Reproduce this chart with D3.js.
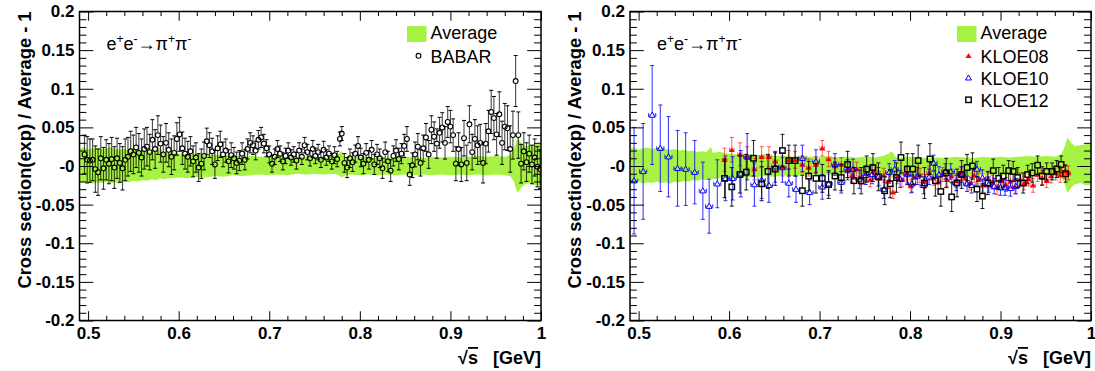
<!DOCTYPE html>
<html><head><meta charset="utf-8">
<script src="https://cdn.jsdelivr.net/npm/d3@7"></script>
<style>
body{margin:0;background:#fff}
svg{display:block}
text{font-family:"Liberation Sans",Arial,Helvetica,sans-serif}
</style>
</head><body>
<svg id="c" width="1095" height="371"></svg>
<script>
// ---------- axis definitions ----------
const xDomain = [0.4905, 1.0];
const yDomain = [-0.2, 0.2];
const xTickVals = [0.5, 0.6, 0.7, 0.8, 0.9, 1.0];
const xTickLabels = ["0.5", "0.6", "0.7", "0.8", "0.9", "1"];
const xMinorVals = [0.52,0.54,0.56,0.58,0.62,0.64,0.66,0.68,0.72,0.74,0.76,0.78,0.82,0.84,0.86,0.88,0.92,0.94,0.96,0.98];
const yTickVals = [-0.2, -0.15, -0.1, -0.05, 0, 0.05, 0.1, 0.15, 0.2];
const yTickLabels = ["-0.2", "-0.15", "-0.1", "-0.05", "-0", "0.05", "0.1", "0.15", "0.2"];
const yMinorVals = [-0.19,-0.18,-0.17,-0.16,-0.14,-0.13,-0.12,-0.11,-0.09,-0.08,-0.07,-0.06,-0.04,-0.03,-0.02,-0.01,0.01,0.02,0.03,0.04,0.06,0.07,0.08,0.09,0.11,0.12,0.13,0.14,0.16,0.17,0.18,0.19];
const yTitle = "Cross section(exp) / Average - 1";

// ---------- Average uncertainty band ----------
const bandX  = [0.490,0.495,0.500,0.505,0.510,0.515,0.520,0.525,0.530,0.535,0.540,0.545,0.550,0.555,0.560,0.565,0.570,0.575,0.580,0.582,0.590,0.600,0.610,0.620,0.630,0.640,0.650,0.660,0.670,0.680,0.690,0.700,0.710,0.720,0.730,0.740,0.750,0.760,0.770,0.776,0.780,0.784,0.790,0.800,0.810,0.820,0.830,0.840,0.850,0.860,0.870,0.880,0.890,0.900,0.910,0.920,0.930,0.940,0.950,0.960,0.966,0.970,0.974,0.978,0.982,0.988,0.994,1.000];
const bandLo = [-0.021,-0.022,-0.020,-0.023,-0.021,-0.022,-0.020,-0.022,-0.021,-0.023,-0.020,-0.021,-0.019,-0.020,-0.018,-0.019,-0.017,-0.018,-0.016,-0.017,-0.016,-0.015,-0.016,-0.014,-0.015,-0.013,-0.014,-0.012,-0.013,-0.012,-0.011,-0.012,-0.011,-0.012,-0.010,-0.011,-0.010,-0.011,-0.010,-0.011,-0.015,-0.012,-0.011,-0.012,-0.011,-0.012,-0.011,-0.012,-0.011,-0.012,-0.011,-0.012,-0.011,-0.012,-0.011,-0.012,-0.011,-0.012,-0.011,-0.012,-0.013,-0.020,-0.035,-0.028,-0.024,-0.022,-0.025,-0.024];
const bandHi = [0.022,0.024,0.021,0.023,0.024,0.022,0.023,0.024,0.022,0.021,0.022,0.020,0.021,0.019,0.020,0.018,0.019,0.018,0.025,0.017,0.018,0.016,0.015,0.016,0.014,0.015,0.013,0.014,0.012,0.013,0.012,0.012,0.013,0.011,0.012,0.011,0.012,0.011,0.013,0.016,0.019,0.012,0.011,0.012,0.011,0.010,0.011,0.010,0.012,0.011,0.010,0.012,0.011,0.012,0.011,0.012,0.013,0.012,0.013,0.012,0.014,0.022,0.037,0.030,0.026,0.027,0.028,0.029];

// ---------- BABAR ----------
const babarX = [
0.496,0.499,0.502,0.505,0.508,0.511,0.514,0.517,0.520,0.523,
0.526,0.529,0.532,0.535,0.538,0.541,0.544,0.547,0.550,0.553,
0.556,0.559,0.562,0.565,0.568,0.571,0.574,0.577,0.580,0.583,
0.586,0.589,0.592,0.595,0.598,0.601,0.604,0.607,0.610,0.613,
0.616,0.619,0.622,0.625,0.628,0.631,0.634,0.637,0.640,0.643,
0.646,0.649,0.652,0.655,0.658,0.661,0.664,0.667,0.670,0.673,
0.676,0.679,0.682,0.685,0.688,0.691,0.694,0.697,0.700,0.703,
0.706,0.709,0.712,0.715,0.718,0.721,0.724,0.727,0.730,0.733,
0.736,0.739,0.742,0.745,0.748,0.751,0.754,0.757,0.760,0.763,
0.766,0.769,0.772,0.775,0.778,0.780,0.783,0.786,0.789,0.792,
0.795,0.798,0.801,0.804,0.807,0.810,0.813,0.816,0.819,0.822,
0.825,0.828,0.831,0.834,0.837,0.840,0.843,0.846,0.849,0.852,
0.855,0.858,0.861,0.864,0.867,0.870,0.873,0.876,0.879,0.882,
0.885,0.888,0.891,0.894,0.897,0.900,0.903,0.906,0.909,0.912,
0.915,0.918,0.921,0.924,0.927,0.930,0.933,0.936,0.939,0.942,
0.945,0.948,0.951,0.954,0.957,0.960,0.963,0.966,0.969,0.972,
0.975,0.978,0.981,0.984,0.987,0.990,0.993,0.996,0.999];
const babarY = [
0.015,0.008,0.007,0.008,-0.004,-0.008,0.010,-0.003,0.008,0.003,
0.009,-0.002,0.010,0.004,-0.003,0.008,0.012,0.019,0.015,0.024,
0.017,0.011,0.022,0.025,0.018,0.034,0.022,0.040,0.029,0.015,
0.030,0.021,0.012,0.017,0.035,0.041,0.023,0.016,0.012,0.019,
0.006,0.011,-0.002,0.003,0.013,0.032,0.027,0.019,0.002,0.023,
0.028,0.015,0.020,0.006,0.014,0.010,0.004,0.007,0.016,0.008,
0.022,0.030,0.027,0.020,0.034,0.037,0.029,0.023,0.015,0.003,
0.012,0.022,0.016,0.006,0.013,0.020,0.011,0.015,0.007,0.020,
0.012,0.027,0.018,0.010,0.022,0.013,0.018,0.008,0.021,0.011,
0.016,0.006,0.014,0.009,0.035,0.042,0.004,-0.002,0.010,0.005,
0.016,0.026,0.011,0.003,0.017,0.008,0.021,0.002,0.015,0.010,
-0.003,0.018,0.006,-0.006,0.013,0.020,0.009,0.016,0.026,0.035,
-0.011,0.001,0.015,0.025,0.004,0.023,0.037,0.015,0.047,0.038,
0.029,0.043,0.050,0.030,0.057,0.051,0.040,0.003,0.022,0.002,
0.036,0.004,0.054,0.018,0.035,0.027,0.030,0.004,0.029,0.045,
0.070,0.062,0.041,0.067,0.030,0.051,0.049,0.022,0.040,0.110,
0.040,0.003,0.019,0.005,0.016,0.002,0.011,-0.001,-0.004];
const babarErr = [
0.025,0.030,0.028,0.027,0.030,0.030,0.028,0.027,0.026,0.026,
0.028,0.027,0.026,0.025,0.028,0.027,0.025,0.026,0.025,0.026,
0.025,0.024,0.026,0.025,0.023,0.026,0.025,0.025,0.024,0.023,
0.025,0.022,0.023,0.022,0.021,0.022,0.021,0.020,0.020,0.019,
0.020,0.019,0.018,0.019,0.018,0.017,0.016,0.017,0.018,0.016,
0.017,0.016,0.015,0.015,0.016,0.014,0.014,0.013,0.014,0.013,
0.013,0.013,0.012,0.012,0.012,0.013,0.012,0.011,0.011,0.011,
0.010,0.011,0.010,0.011,0.010,0.010,0.010,0.010,0.011,0.010,
0.010,0.010,0.010,0.010,0.011,0.010,0.010,0.010,0.011,0.010,
0.010,0.010,0.011,0.010,0.009,0.009,0.012,0.013,0.012,0.012,
0.011,0.012,0.012,0.013,0.012,0.012,0.012,0.013,0.013,0.012,
0.013,0.013,0.013,0.014,0.013,0.014,0.014,0.013,0.015,0.016,
0.014,0.016,0.016,0.017,0.017,0.017,0.018,0.018,0.018,0.019,
0.019,0.020,0.019,0.021,0.020,0.021,0.021,0.022,0.021,0.022,
0.023,0.023,0.024,0.023,0.025,0.025,0.024,0.026,0.026,0.027,
0.028,0.028,0.027,0.029,0.028,0.030,0.029,0.030,0.031,0.033,
0.030,0.025,0.024,0.025,0.024,0.025,0.024,0.026,0.025];

// ---------- KLOE08 ----------
const kloe08X = [0.595,0.603,0.612,0.620,0.628,0.636,0.644,0.651,0.659,0.666,0.673,0.681,0.688,0.696,0.703,0.710,0.717,0.724,0.731,
0.736,0.741,0.746,0.751,0.756,0.761,0.766,0.771,0.776,0.781,
0.786,0.791,0.796,0.801,0.806,0.811,0.816,0.821,0.826,0.831,
0.836,0.841,0.846,0.851,0.856,0.861,0.866,0.871,0.876,0.881,
0.886,0.891,0.896,0.901,0.906,0.911,0.916,0.921,0.926,0.931,
0.936,0.941,0.946,0.951,0.956,0.961,0.966,0.971,0.975];
const kloe08Y = [0.008,0.021,0.015,0.011,-0.004,0.012,0.012,0.006,-0.001,0.008,0.008,0.002,-0.002,0.002,0.023,0.009,0.000,0.002,-0.006,
-0.012,-0.004,-0.015,-0.010,-0.018,-0.008,-0.016,-0.012,-0.020,-0.034,
-0.014,-0.018,-0.010,-0.026,-0.015,-0.012,-0.020,-0.009,-0.016,-0.021,
-0.011,-0.018,-0.013,-0.019,-0.010,-0.016,-0.022,-0.012,-0.018,-0.025,
-0.017,-0.021,-0.028,-0.019,-0.024,-0.020,-0.027,-0.018,-0.022,-0.017,
-0.025,-0.011,-0.015,-0.019,-0.013,-0.009,-0.012,-0.007,-0.009];
const kloe08Err = [0.015,0.016,0.015,0.014,0.014,0.013,0.013,0.012,0.012,0.012,0.011,0.011,0.011,0.010,0.010,0.010,0.010,0.009,0.009,
0.009,0.009,0.009,0.009,0.009,0.009,0.009,0.009,0.009,0.008,
0.009,0.009,0.009,0.009,0.009,0.009,0.009,0.009,0.009,0.009,
0.009,0.009,0.009,0.009,0.009,0.009,0.009,0.009,0.009,0.009,
0.009,0.009,0.009,0.009,0.009,0.009,0.009,0.009,0.009,0.009,
0.009,0.009,0.009,0.009,0.009,0.009,0.009,0.009,0.009];
const kloe08XErr = 0.0025;

// ---------- KLOE10 ----------
const kloe10X = [0.495,0.505,0.515,0.524,0.533,0.543,0.552,0.562,0.571,0.578,
0.587,0.596,0.604,0.613,0.620,0.628,0.636,0.644,0.651,0.659,
0.666,0.674,0.681,0.689,0.696,0.703,0.710,0.717,0.724,0.731,
0.737,0.744,0.751,0.758,0.765,0.771,0.777,0.783,0.789,0.797,
0.802,0.808,0.815,0.821,0.826,0.832,0.839,0.845,0.851,0.857,
0.863,0.868,0.874,0.880,0.887,0.893,0.900,0.905,0.911,0.917];
const kloe10Y = [-0.019,-0.007,0.066,0.023,0.012,-0.003,-0.004,-0.008,-0.032,-0.052,
-0.023,-0.016,-0.016,-0.010,0.012,-0.024,-0.018,-0.025,-0.001,-0.002,
-0.022,-0.030,0.010,-0.034,0.006,-0.027,-0.023,0.002,-0.021,-0.005,
-0.004,-0.017,-0.012,-0.011,-0.014,-0.030,-0.008,-0.004,-0.017,-0.011,
-0.023,-0.013,-0.025,-0.014,0.004,-0.011,-0.007,-0.007,-0.022,-0.011,
-0.023,-0.025,-0.004,-0.015,-0.024,-0.026,-0.028,-0.028,-0.029,-0.026];
const kloe10Err = [0.069,0.062,0.064,0.056,0.052,0.049,0.047,0.041,0.037,0.035,
0.031,0.029,0.028,0.030,0.030,0.028,0.024,0.022,0.020,0.019,
0.018,0.017,0.017,0.016,0.015,0.016,0.015,0.014,0.014,0.013,
0.013,0.012,0.012,0.012,0.012,0.012,0.011,0.011,0.011,0.011,
0.011,0.011,0.011,0.010,0.010,0.010,0.010,0.010,0.010,0.010,
0.010,0.010,0.010,0.010,0.010,0.010,0.010,0.010,0.010,0.010];
const kloe10XErr = 0.004;

// ---------- KLOE12 ----------
const kloe12X = [0.595,0.603,0.612,0.619,0.627,0.636,0.643,0.651,0.659,0.666,0.673,0.681,0.688,0.696,0.703,0.710,0.717,0.724,0.731,
0.738,0.746,0.752,0.759,0.765,0.772,0.778,0.785,0.790,0.797,
0.803,0.809,0.816,0.822,0.828,0.834,0.840,0.846,0.852,0.857,
0.863,0.869,0.874,0.880,0.886,0.892,0.898,0.903,0.909,0.914,
0.919,0.925,0.930,0.935,0.941,0.946,0.951,0.957,0.962,0.967,
0.972];
const kloe12Y = [-0.016,-0.027,-0.011,-0.008,0.010,-0.023,-0.007,-0.004,0.020,0.007,0.007,-0.032,-0.013,-0.016,-0.016,-0.024,-0.013,-0.015,0.002,
-0.019,-0.019,-0.004,-0.002,-0.014,-0.032,-0.023,-0.015,0.011,-0.004,
-0.004,0.007,-0.022,0.009,-0.019,-0.033,-0.009,-0.040,-0.022,-0.011,
-0.002,0.000,-0.030,-0.039,-0.022,-0.006,-0.016,-0.013,-0.006,-0.007,
-0.015,-0.022,-0.011,-0.009,0.001,-0.013,-0.007,-0.007,-0.004,0.002,
-0.010];
const kloe12Err = [0.025,0.025,0.024,0.023,0.023,0.022,0.022,0.021,0.021,0.020,0.020,0.020,0.019,0.019,0.018,0.018,0.018,0.017,0.017,
0.017,0.017,0.017,0.018,0.018,0.018,0.018,0.019,0.020,0.020,
0.020,0.020,0.020,0.020,0.020,0.019,0.019,0.019,0.018,0.018,
0.017,0.017,0.016,0.016,0.015,0.015,0.014,0.014,0.013,0.013,
0.013,0.013,0.012,0.012,0.012,0.012,0.011,0.011,0.011,0.011,
0.011];

const reactionLabel = ["e", "+", "e", "-", "\u2192\u03c0", "+", "\u03c0", "-"];

// ---------- drawing ----------
const svg = d3.select("#c");
const TOP = 11.5, BOT = 320.5;
const BAND_COLOR = "#a6f343";
const FONT = '"Liberation Sans",Arial,Helvetica,sans-serif';

const panels = [
  { x0: 79.5, x1: 541, legend: [{name:"Average", type:"band"}, {name:"BABAR", type:"babar"}] },
  { x0: 630, x1: 1091, legend: [{name:"Average", type:"band"}, {name:"KLOE08", type:"k08"}, {name:"KLOE10", type:"k10"}, {name:"KLOE12", type:"k12"}] }
];

function zipSeries(xs, ys, es) { return xs.map((v, i) => ({ x: v, y: ys[i], e: es[i] })); }
const band = bandX.map((v, i) => ({ x: v, lo: bandLo[i], hi: bandHi[i] }));

function errBars(g, data, x, y, opt) {
  const gg = g.append("g");
  data.forEach(d => {
    const cx = x(d.x), cy = y(d.y);
    const yt = y(d.y + d.e), yb = y(d.y - d.e);
    const gap = opt.gap;
    if (cy - gap > yt) gg.append("line").attr("x1", cx).attr("x2", cx).attr("y1", yt).attr("y2", cy - gap)
      .attr("stroke", opt.color).attr("stroke-opacity", opt.op).attr("stroke-width", opt.w);
    if (cy + gap < yb) gg.append("line").attr("x1", cx).attr("x2", cx).attr("y1", cy + gap).attr("y2", yb)
      .attr("stroke", opt.color).attr("stroke-opacity", opt.op).attr("stroke-width", opt.w);
    [yt, yb].forEach(yy => gg.append("line").attr("x1", cx - opt.cap).attr("x2", cx + opt.cap).attr("y1", yy).attr("y2", yy)
      .attr("stroke", opt.capColor).attr("stroke-opacity", opt.capOp).attr("stroke-width", 1));
    if (opt.xerr) {
      const xl = x(d.x - opt.xerr), xr = x(d.x + opt.xerr);
      gg.append("line").attr("x1", xl).attr("x2", cx - gap).attr("y1", cy).attr("y2", cy)
        .attr("stroke", opt.color).attr("stroke-opacity", opt.op).attr("stroke-width", 1);
      gg.append("line").attr("x1", cx + gap).attr("x2", xr).attr("y1", cy).attr("y2", cy)
        .attr("stroke", opt.color).attr("stroke-opacity", opt.op).attr("stroke-width", 1);
      [xl, xr].forEach(xx => gg.append("line").attr("x1", xx).attr("x2", xx).attr("y1", cy - 2).attr("y2", cy + 2)
        .attr("stroke", opt.color).attr("stroke-opacity", opt.op).attr("stroke-width", 1));
    }
  });
}

function marker(g, type, cx, cy) {
  if (type === "babar") {
    g.append("circle").attr("cx", cx).attr("cy", cy).attr("r", 2.4).attr("fill", "none").attr("stroke", "#000").attr("stroke-width", 1.1);
  } else if (type === "k08") {
    g.append("path").attr("transform", `translate(${cx},${cy + 0.5})`).attr("d", d3.symbol(d3.symbolTriangle, 15)()).attr("fill", "#f00");
  } else if (type === "k10") {
    g.append("path").attr("transform", `translate(${cx},${cy + 0.5})`).attr("d", d3.symbol(d3.symbolTriangle, 15)()).attr("fill", "none").attr("stroke", "#00f").attr("stroke-width", 1);
  } else if (type === "k12") {
    g.append("rect").attr("x", cx - 2.7).attr("y", cy - 2.7).attr("width", 5.4).attr("height", 5.4).attr("fill", "none").attr("stroke", "#000").attr("stroke-width", 1.4);
  }
}

panels.forEach((p, pi) => {
  const x = d3.scaleLinear().domain(xDomain).range([p.x0, p.x1]);
  const y = d3.scaleLinear().domain(yDomain).range([BOT, TOP]);
  const g = svg.append("g");
  const clipId = "clip" + pi;
  svg.append("clipPath").attr("id", clipId).append("rect").attr("x", p.x0).attr("y", TOP).attr("width", p.x1 - p.x0).attr("height", BOT - TOP);
  const plot = g.append("g").attr("clip-path", `url(#${clipId})`);

  plot.append("path").datum(band).attr("fill", BAND_COLOR)
    .attr("d", d3.area().x(d => x(d.x)).y0(d => y(d.lo)).y1(d => y(d.hi)));

  if (pi === 0) {
    const data = zipSeries(babarX, babarY, babarErr);
    errBars(plot, data, x, y, { color: "#000", op: 0.72, w: 1.1, gap: 2.4, cap: 2, capColor: "#000", capOp: 1 });
    data.forEach(d => marker(plot, "babar", x(d.x), y(d.y)));
  } else {
    const d08 = zipSeries(kloe08X, kloe08Y, kloe08Err);
    const d10 = zipSeries(kloe10X, kloe10Y, kloe10Err);
    const d12 = zipSeries(kloe12X, kloe12Y, kloe12Err);
    errBars(plot, d08, x, y, { color: "#f00", op: 0.6, w: 1, gap: 2.2, cap: 2, capColor: "#f00", capOp: 0.65, xerr: kloe08XErr });
    d08.forEach(d => marker(plot, "k08", x(d.x), y(d.y)));
    errBars(plot, d10, x, y, { color: "#00f", op: 0.75, w: 1.1, gap: 2.2, cap: 2, capColor: "#00f", capOp: 0.8, xerr: kloe10XErr });
    d10.forEach(d => marker(plot, "k10", x(d.x), y(d.y)));
    errBars(plot, d12, x, y, { color: "#000", op: 0.8, w: 1.1, gap: 2.7, cap: 2, capColor: "#000", capOp: 0.9 });
    d12.forEach(d => marker(plot, "k12", x(d.x), y(d.y)));
  }

  const styleAxis = sel => {
    sel.select(".domain").remove();
    sel.selectAll(".tick line").attr("stroke", "#000").attr("stroke-width", 1);
    sel.selectAll("text").attr("font-family", FONT).attr("font-weight", "bold").attr("font-size", 17).attr("fill", "#000");
  };
  const W = p.x1 - p.x0, Hh = BOT - TOP;
  const yMaj = 0.03 * W, yMin = 0.015 * W, xMaj = 0.03 * Hh, xMin = 0.015 * Hh;
  g.append("g").attr("transform", `translate(${p.x0},0)`)
    .call(d3.axisLeft(y).tickValues(yTickVals).tickFormat((d, i) => yTickLabels[i]).tickSizeInner(-yMaj).tickSizeOuter(0).tickPadding(5)).call(styleAxis);
  g.append("g").attr("transform", `translate(${p.x0},0)`)
    .call(d3.axisLeft(y).tickValues(yMinorVals).tickFormat("").tickSizeInner(-yMin).tickSizeOuter(0)).call(styleAxis);
  g.append("g").attr("transform", `translate(${p.x1},0)`)
    .call(d3.axisRight(y).tickValues(yTickVals).tickFormat("").tickSizeInner(-yMaj).tickSizeOuter(0)).call(styleAxis);
  g.append("g").attr("transform", `translate(${p.x1},0)`)
    .call(d3.axisRight(y).tickValues(yMinorVals).tickFormat("").tickSizeInner(-yMin).tickSizeOuter(0)).call(styleAxis);
  g.append("g").attr("transform", `translate(0,${BOT})`)
    .call(d3.axisBottom(x).tickValues(xTickVals).tickFormat((d, i) => xTickLabels[i]).tickSizeInner(-xMaj).tickSizeOuter(0).tickPadding(6.5)).call(styleAxis);
  g.append("g").attr("transform", `translate(0,${BOT})`)
    .call(d3.axisBottom(x).tickValues(xMinorVals).tickFormat("").tickSizeInner(-xMin).tickSizeOuter(0)).call(styleAxis);
  g.append("g").attr("transform", `translate(0,${TOP})`)
    .call(d3.axisTop(x).tickValues(xTickVals).tickFormat("").tickSizeInner(-xMaj).tickSizeOuter(0)).call(styleAxis);
  g.append("g").attr("transform", `translate(0,${TOP})`)
    .call(d3.axisTop(x).tickValues(xMinorVals).tickFormat("").tickSizeInner(-xMin).tickSizeOuter(0)).call(styleAxis);

  g.append("rect").attr("x", p.x0).attr("y", TOP).attr("width", W).attr("height", Hh)
    .attr("fill", "none").attr("stroke", "#000").attr("stroke-width", 1.5);

  g.append("text").attr("transform", `translate(${p.x0 - 49},${TOP}) rotate(-90)`)
    .attr("text-anchor", "end").attr("font-family", FONT).attr("font-weight", "bold").attr("font-size", 18.3).text(yTitle);
  const xt = g.append("text").attr("x", p.x1).attr("y", 364).attr("text-anchor", "end")
    .attr("font-family", FONT).attr("font-weight", "bold").attr("font-size", 18);
  xt.append("tspan").text("\u221A");
  xt.append("tspan").attr("text-decoration", "overline").text("s");
  xt.append("tspan").text("\u00A0\u00A0\u00A0[GeV]");

  const rl = g.append("text").attr("x", p.x0 + 27).attr("y", 49.5).attr("font-family", FONT).attr("font-size", 18);
  reactionLabel.forEach((s, i) => {
    const sup = (i % 2 === 1);
    rl.append("tspan").attr("dy", sup ? -7 : (i === 0 ? 0 : 7)).attr("font-size", sup ? 12 : 18).text(s);
  });

  const R = p.x1;
  const rows = [38.5, 63.3, 85.3, 107.3];
  p.legend.forEach((it, i) => {
    const by = rows[i];
    if (it.type === "band") {
      g.append("rect").attr("x", R - 134).attr("y", by - 12.5).attr("width", 19.5).attr("height", 16).attr("fill", BAND_COLOR);
    } else {
      marker(g, it.type, R - 122.5, by - 7.5);
    }
    g.append("text").attr("x", R - 110.5).attr("y", by).attr("font-family", FONT).attr("font-size", 18).text(it.name);
  });
});
</script>
</body></html>
